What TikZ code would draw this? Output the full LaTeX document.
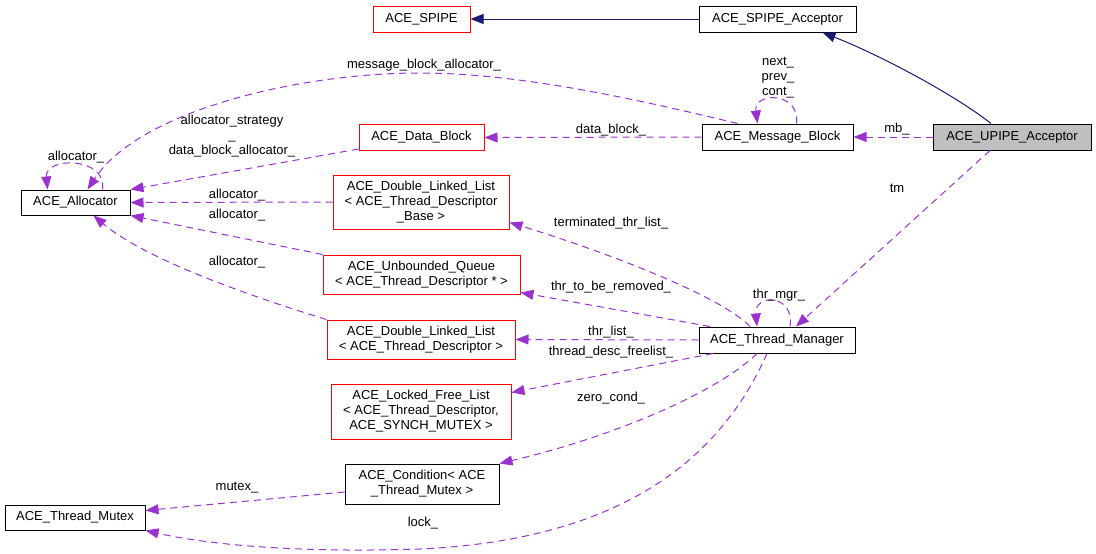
\documentclass[tikz,border=0pt]{standalone}
\usepackage{fontspec}
\setmainfont{Liberation Sans}
\usetikzlibrary{arrows.meta}
\definecolor{edgepurple}{RGB}{154,50,205}
\definecolor{edgenavy}{RGB}{25,25,112}
\definecolor{basegrey}{RGB}{191,191,191}
\newcommand{\dfont}{\fontsize{13}{15}\selectfont}
\newcommand{\elabel}[3]{%
    \node[elab] (#1) at (#2) {#3};
}
\begin{document}
\begin{tikzpicture}[x=1pt, y=-1pt,
    box/.style={draw, line width=1pt, inner sep=0pt, minimum height=26pt, align=center, font=\dfont},
    redbox/.style={box, draw=red},
    elab/.style={inner sep=0pt, align=center, font=\dfont},
    dep/.style={draw=edgepurple, line width=1pt, dash pattern=on 7pt off 5pt, -{Triangle[length=13pt, width=10pt]}},
    inh/.style={draw=edgenavy, line width=1pt, -{Triangle[length=13pt, width=10pt]}}]

\useasboundingbox (0, 0) rectangle (1096, 554);

% classes
\node[redbox, minimum width=97pt] (spipe) at (421.5, 19) {ACE\_SPIPE};
\node[box, minimum width=157pt] (spipeacc) at (777.5, 19) {ACE\_SPIPE\_Acceptor};
\node[box, minimum width=158pt, fill=basegrey] (upipe) at (1012, 137) {ACE\_UPIPE\_Acceptor};
\node[box, minimum width=151pt] (mblock) at (777.5, 137) {ACE\_Message\_Block};
\node[redbox, minimum width=125pt] (dblock) at (421.5, 137.5) {ACE\_Data\_Block};
\node[box, minimum width=109pt, minimum height=25pt] (alloc) at (75.5, 202.5) {ACE\_Allocator};
\node[redbox, minimum width=176pt, minimum height=54pt] (dllbase) at (421, 202) {ACE\_Double\_Linked\_List\\\textless{} ACE\_Thread\_Descriptor\\\_Base \textgreater};
\node[redbox, minimum width=197pt, minimum height=39pt] (uqueue) at (421.5, 274.5) {ACE\_Unbounded\_Queue\\\textless{} ACE\_Thread\_Descriptor * \textgreater};
\node[redbox, minimum width=188pt, minimum height=39pt] (dll) at (421, 339.5) {ACE\_Double\_Linked\_List\\\textless{} ACE\_Thread\_Descriptor \textgreater};
\node[box, minimum width=156pt] (tmgr) at (777, 340) {ACE\_Thread\_Manager};
\node[redbox, minimum width=180pt, minimum height=55pt] (lfl) at (421, 411.5) {ACE\_Locked\_Free\_List\\\textless{} ACE\_Thread\_Descriptor,\\ACE\_SYNCH\_MUTEX \textgreater};
\node[box, minimum width=154pt, minimum height=40pt] (cond) at (422, 484) {ACE\_Condition\textless{} ACE\\\_Thread\_Mutex \textgreater};
\node[box, minimum width=140pt, minimum height=25pt] (tmutex) at (75, 517.5) {ACE\_Thread\_Mutex};

% inheritance
\draw[inh] (spipeacc.west) -- (spipe.east);
\draw[inh] ([xshift=-21pt]upipe.north) .. controls (955, 95) and (880, 55) .. ([xshift=45pt]spipeacc.south);

% upipe acceptor members
\draw[dep] (upipe.west) -- (mblock.east);
\draw[dep] ([xshift=-22pt]upipe.south) -- ([xshift=19pt]tmgr.north);

% message block members
\draw[dep] ([xshift=19pt]mblock.north) .. controls +(4, -32) and +(-4, -32) .. ([xshift=-20pt]mblock.north);
\draw[dep] (mblock.west) -- (dblock.east);
\draw[dep] ([xshift=-40pt]mblock.north) .. controls (640, 100) and (520, 73) .. (420, 73)
    .. controls (300, 73) and (140, 110) .. ([xshift=12pt]alloc.north);

% allocator users
\draw[dep] ([xshift=27pt]alloc.north) .. controls +(5, -33) and +(-3, -33) .. ([xshift=-28pt]alloc.north);
\draw[dep] ([yshift=2pt]dblock.south west) -- (alloc.north east);
\draw[dep] (dllbase.west) -- (alloc.east);
\draw[dep] (uqueue.north west) -- (alloc.south east);
\draw[dep] (dll.north west) .. controls (230, 290) and (140, 255) .. ([xshift=18pt]alloc.south);

% thread manager members
\draw[dep] ([xshift=-27pt]tmgr.north) .. controls (720, 295) and (600, 250) .. ([yshift=7pt]dllbase.south east);
\draw[dep] ([xshift=-67pt]tmgr.north) -- ([yshift=2pt]uqueue.south east);
\draw[dep] (tmgr.west) -- (dll.east);
\draw[dep] ([xshift=-64pt]tmgr.south) -- ([yshift=-9pt]lfl.north east);
\draw[dep] ([xshift=13pt]tmgr.north) .. controls +(5, -33) and +(-3, -33) .. ([xshift=-20pt]tmgr.north);
\draw[dep] ([xshift=-20pt]tmgr.south) .. controls (720, 390) and (620, 435) .. (cond.north east);
\draw[dep] ([xshift=-10pt]tmgr.south) .. controls (720, 460) and (620, 540) .. (420, 549)
    .. controls (300, 553) and (210, 545) .. (tmutex.south east);
\draw[dep] ([yshift=-8pt]cond.west) -- ([yshift=7pt]tmutex.east);

% edge labels
\elabel{lmb}{897, 129}{mb\_}
\elabel{ltm}{897, 188}{tm}
\elabel{lnext}{778, 78}{next\_\\prev\_\\cont\_}
\elabel{ldata}{611, 130}{data\_block\_}
\elabel{lmalloc}{424, 65}{message\_block\_allocator\_}
\elabel{ldalloc}{232, 136}{allocator\_strategy\\\_\\data\_block\_allocator\_}
\elabel{lself}{76, 157}{allocator\_}
\elabel{lallocA}{237, 195}{allocator\_}
\elabel{lallocB}{237, 215}{allocator\_}
\elabel{lallocC}{237, 262}{allocator\_}
\elabel{lterm}{611, 223}{terminated\_thr\_list\_}
\elabel{lremoved}{611, 287}{thr\_to\_be\_removed\_}
\elabel{lthrlist}{611, 332}{thr\_list\_}
\elabel{lfree}{611, 352}{thread\_desc\_freelist\_}
\elabel{lmgr}{779, 295}{thr\_mgr\_}
\elabel{lzero}{611, 398}{zero\_cond\_}
\elabel{lmutex}{237, 488}{mutex\_}
\elabel{llock}{423, 523}{lock\_}
\end{tikzpicture}
\end{document}
